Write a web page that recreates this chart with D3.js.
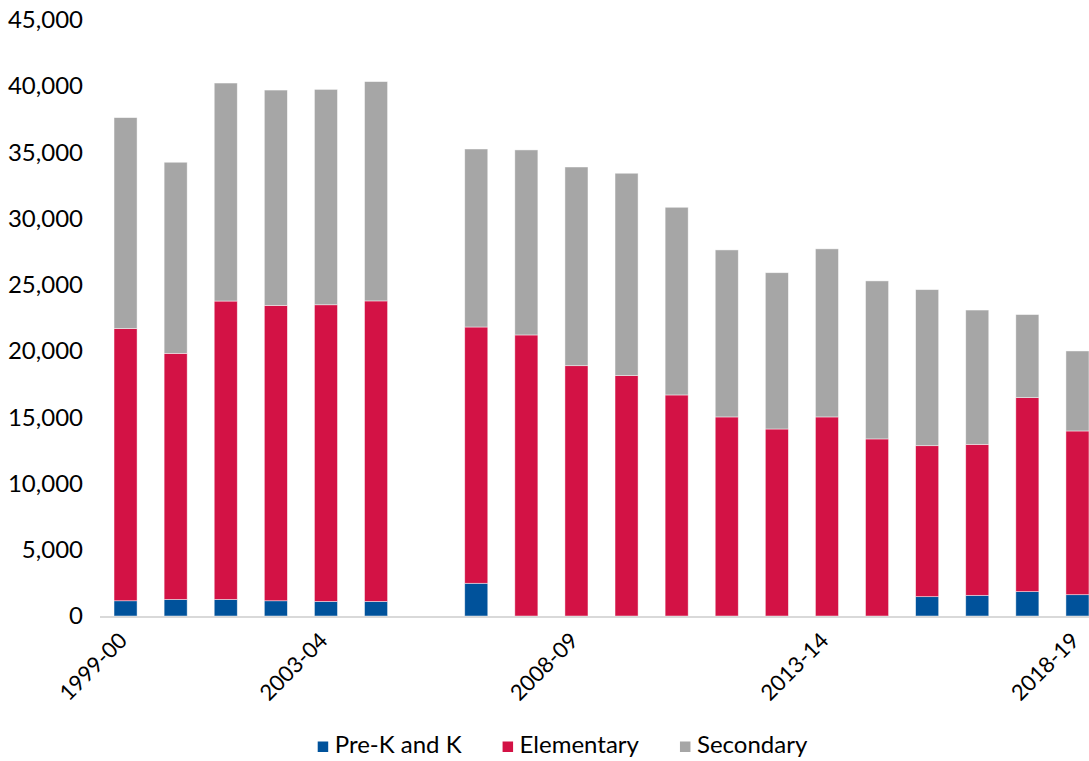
<!DOCTYPE html>
<html>
<head>
<meta charset="utf-8">
<script src="https://cdn.jsdelivr.net/npm/d3@7"></script>
<style>
  html, body { margin: 0; padding: 0; background: #fff; }
  svg { display: block; font-family: Lato, "Open Sans", sans-serif; }
</style>
</head>
<body>
<svg id="chart" width="1089" height="761"></svg>
<script>
const categories = ["1999-00","2000-01","2001-02","2002-03","2003-04","2004-05","2005-06","2006-07","2007-08","2008-09","2009-10","2010-11","2011-12","2012-13","2013-14","2014-15","2015-16","2016-17","2017-18","2018-19"];
const preK       = [1150, 1250, 1250, 1150, 1100, 1100, null, 2470, 0, 0, 0, 0, 0, 0, 0, 0, 1460, 1560, 1840, 1610];
const elementary = [20550, 18580, 22530, 22300, 22400, 22690, null, 19350, 21220, 18900, 18150, 16690, 15030, 14120, 15030, 13370, 11400, 11400, 14650, 12360];
const secondary  = [15930, 14430, 16460, 16260, 16260, 16560, null, 13440, 13970, 15000, 15280, 14170, 12610, 11800, 12690, 11930, 11780, 10140, 6270, 6040];
const seriesNames = ["Pre-K and K", "Elementary", "Secondary"];
const seriesColors = ["#00529B", "#D31245", "#A6A6A6"];
const xTickLabels = ["1999-00", "2003-04", "2008-09", "2013-14", "2018-19"];
const yTicks = [0, 5000, 10000, 15000, 20000, 25000, 30000, 35000, 40000, 45000];

const svg = d3.select("#chart");
const rows = categories.map((c, i) => ({cat: c, s0: preK[i], s1: elementary[i], s2: secondary[i]}));
const keys = ["s0", "s1", "s2"];
const stack = d3.stack().keys(keys).value((d, k) => d[k] == null ? 0 : d[k]);
const layers = stack(rows);

const x = d3.scaleBand().domain(categories).range([100.5, 1102.5]).paddingInner(0.54).paddingOuter(0.27);
const y = d3.scaleLinear().domain([0, 45000]).range([616, 20]);

// bars
const g = svg.append("g");
layers.forEach((layer, li) => {
  g.append("g").attr("fill", seriesColors[li])
    .selectAll("rect")
    .data(layer.filter(d => d.data[keys[li]] != null && d[1] > d[0]))
    .join("rect")
    .attr("x", d => x(d.data.cat))
    .attr("width", x.bandwidth())
    .attr("y", d => y(d[1]))
    .attr("height", d => y(d[0]) - y(d[1]))
    .attr("stroke", "#ffffff")
    .attr("stroke-opacity", 0.6)
    .attr("stroke-width", 0.75);
});

// x axis line
svg.append("line")
  .attr("x1", 100).attr("x2", 1089)
  .attr("y1", y(0) + 1).attr("y2", y(0) + 1)
  .attr("stroke", "#D9D9D9").attr("stroke-width", 2);

// y axis
const yAxis = d3.axisLeft(y).tickValues(yTicks).tickFormat(d3.format(",")).tickSize(0).tickPadding(0);
const ya = svg.append("g").attr("transform", "translate(83,0)").call(yAxis);
ya.select(".domain").remove();
ya.selectAll("text").attr("font-size", 24).attr("fill", "#000").attr("font-family", "Lato, 'Open Sans', sans-serif");

// x labels
const xa = svg.append("g");
xa.selectAll("text")
  .data(xTickLabels)
  .join("text")
  .attr("transform", d => `translate(${x(d) + x.bandwidth() / 2 + 3},${y(0) + 26}) rotate(-45)`)
  .attr("text-anchor", "end")
  .attr("font-size", 22)
  .attr("fill", "#000")
  .text(d => d);

// legend
const leg = svg.append("g");
const items = leg.selectAll("g").data(seriesNames).join("g");
items.append("rect").attr("width", 10.5).attr("height", 10.5).attr("y", -10.5)
  .attr("fill", (d, i) => seriesColors[i]);
items.append("text").attr("x", 17).attr("y", 0).attr("dy", 0.5)
  .attr("font-size", 24).attr("fill", "#000").text(d => d);
let cx = 0;
const gap = 41;
items.each(function () {
  const w = 17 + d3.select(this).select("text").node().getComputedTextLength();
  d3.select(this).attr("data-x", cx).attr("data-w", w);
  cx += w + gap;
});
const total = cx - gap;
const start = 562.5 - total / 2;
items.attr("transform", function () {
  return `translate(${start + (+this.getAttribute("data-x"))},752)`;
});
</script>
</body>
</html>
